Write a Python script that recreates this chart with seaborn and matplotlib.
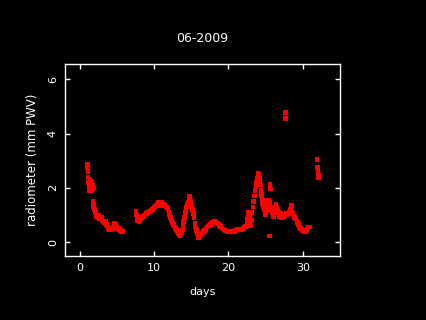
import matplotlib
matplotlib.use("Agg")
import matplotlib.pyplot as plt
import seaborn as sns
import pandas as pd

# Precipitable water vapour readings as (day of month, mm PWV)
seg1 = [(1.0, 2.75), (1.05, 2.85), (1.1, 2.6), (1.15, 2.4), (1.2, 2.2), (1.25, 1.95),
        (1.3, 2.1), (1.35, 1.9), (1.4, 2.3), (1.45, 2.05), (1.5, 2.0), (1.55, 2.25),
        (1.6, 2.2), (1.65, 1.9), (1.7, 1.95), (1.75, 2.1), (1.8, 2.1), (1.85, 2.0)]

seg2 = [(1.8, 1.5), (1.85, 1.4), (1.9, 1.3), (1.95, 1.25), (2.0, 1.2), (2.1, 1.1),
        (2.2, 1.05), (2.3, 0.95), (2.4, 1.0), (2.5, 0.9), (2.6, 0.95), (2.7, 0.88),
        (2.8, 0.85), (2.9, 0.85), (3.0, 0.8), (3.1, 0.78), (3.2, 0.75), (3.3, 0.72),
        (3.4, 0.7), (3.5, 0.66), (3.6, 0.65), (3.7, 0.6), (3.8, 0.55), (3.9, 0.5),
        (4.0, 0.45), (4.1, 0.45), (4.2, 0.45), (4.3, 0.48), (4.4, 0.5), (4.5, 0.55),
        (4.6, 0.6), (4.7, 0.7), (4.8, 0.65), (4.9, 0.6), (5.0, 0.55), (5.1, 0.52),
        (5.2, 0.5), (5.3, 0.48), (5.4, 0.45), (5.5, 0.42), (5.6, 0.4), (5.7, 0.38),
        (5.8, 0.38)]

seg3a = [(7.6, 1.12), (7.65, 1.0), (7.7, 0.95), (7.75, 0.8), (7.8, 0.85), (7.9, 0.78),
         (8.0, 0.75), (8.1, 0.8), (8.2, 0.85), (8.3, 0.9), (8.4, 0.9), (8.5, 0.95),
         (8.6, 0.95), (8.7, 1.0), (8.8, 1.0), (8.9, 1.05), (9.0, 1.05), (9.1, 1.1),
         (9.2, 1.1), (9.35, 1.12), (9.5, 1.15), (9.65, 1.18), (9.8, 1.2), (9.9, 1.25),
         (10.0, 1.3), (10.15, 1.32), (10.3, 1.35), (10.45, 1.38), (10.6, 1.4),
         (10.75, 1.42), (10.9, 1.42), (11.05, 1.45), (11.2, 1.38), (11.35, 1.4),
         (11.5, 1.35), (11.65, 1.3), (11.8, 1.25), (11.9, 1.18), (12.0, 1.1),
         (12.1, 1.0), (12.2, 0.9), (12.3, 0.82), (12.4, 0.75), (12.5, 0.7),
         (12.6, 0.65), (12.7, 0.6), (12.8, 0.55), (12.9, 0.5), (13.0, 0.45)]

seg3b = [(13.1, 0.4), (13.2, 0.35), (13.3, 0.32), (13.4, 0.28), (13.5, 0.25),
         (13.6, 0.3), (13.7, 0.35), (13.8, 0.45), (13.9, 0.6), (14.0, 0.75),
         (14.1, 0.9), (14.2, 1.1), (14.3, 1.2), (14.4, 1.3), (14.5, 1.4), (14.6, 1.45),
         (14.7, 1.55), (14.8, 1.6), (14.9, 1.5), (15.0, 1.4), (15.1, 1.3), (15.2, 1.2),
         (15.3, 1.05), (15.4, 0.9), (15.5, 0.7), (15.6, 0.55), (15.7, 0.42),
         (15.8, 0.3), (15.9, 0.22), (16.0, 0.18)]

seg3c = [(16.1, 0.2), (16.2, 0.25), (16.3, 0.28), (16.4, 0.3), (16.5, 0.33),
         (16.6, 0.38), (16.7, 0.4), (16.8, 0.42), (16.9, 0.45), (17.0, 0.5),
         (17.15, 0.55), (17.3, 0.6), (17.45, 0.62), (17.6, 0.65), (17.75, 0.68),
         (17.9, 0.72), (18.05, 0.75), (18.2, 0.75), (18.35, 0.72), (18.5, 0.7),
         (18.65, 0.66), (18.8, 0.62), (18.95, 0.58), (19.1, 0.52), (19.25, 0.48),
         (19.4, 0.45), (19.55, 0.43), (19.7, 0.42), (19.8, 0.4), (19.9, 0.4),
         (20.5, 0.38), (20.65, 0.38), (20.8, 0.4), (20.95, 0.42), (21.1, 0.45),
         (21.25, 0.46), (21.4, 0.48), (21.55, 0.46), (21.7, 0.45), (21.85, 0.48),
         (22.0, 0.5)]

seg3d = [(22.1, 0.52), (22.2, 0.55), (22.3, 0.58), (22.4, 0.6), (22.5, 0.7),
         (22.6, 0.85), (22.65, 0.95), (22.7, 1.1), (22.75, 1.0), (22.8, 0.95),
         (22.9, 0.75), (23.0, 0.6), (23.1, 0.8), (23.2, 1.1), (23.3, 1.3), (23.4, 1.5),
         (23.5, 1.7), (23.6, 1.9), (23.7, 2.05), (23.8, 2.2), (23.9, 2.35),
         (24.0, 2.45), (24.05, 2.4), (24.1, 2.5), (24.15, 2.35), (24.2, 2.3),
         (24.3, 2.1), (24.4, 1.9), (24.45, 1.75), (24.5, 1.6), (24.55, 1.5),
         (24.6, 1.4), (24.7, 1.3), (24.8, 1.2), (24.9, 1.1), (25.0, 1.0),
         (25.1, 1.15), (25.2, 1.3), (25.3, 1.45), (25.4, 1.55), (25.5, 1.45),
         (25.6, 1.4), (25.7, 1.3), (25.8, 1.2), (25.9, 1.1), (26.0, 1.0)]

seg3e = [(26.1, 1.1), (26.2, 1.2), (26.3, 1.3), (26.4, 1.4), (26.5, 1.3), (26.6, 1.2),
         (26.7, 1.1), (26.8, 1.0), (26.9, 0.95), (27.0, 0.95), (27.15, 0.9),
         (27.3, 0.92), (27.45, 0.95), (27.6, 0.98), (27.75, 1.0), (27.9, 1.02),
         (28.05, 1.05), (28.2, 1.1), (28.3, 1.2), (28.4, 1.15), (28.5, 1.1),
         (28.6, 1.05), (28.7, 1.0), (28.8, 0.95), (28.9, 0.9), (29.0, 0.88),
         (29.1, 0.85), (29.2, 0.78), (29.3, 0.7), (29.4, 0.65), (29.5, 0.6),
         (29.6, 0.55), (29.7, 0.5), (29.8, 0.48), (29.9, 0.45), (30.0, 0.43),
         (30.1, 0.42), (30.2, 0.4), (30.3, 0.38), (30.4, 0.4), (30.5, 0.45),
         (30.6, 0.48), (30.7, 0.5), (30.8, 0.55), (30.9, 0.55)]

# scattered readings around the main trace and isolated outliers
extras = [(1.1, 2.4), (1.3, 2.3), (1.5, 2.2), (2.5, 1.0), (3.0, 0.9), (3.5, 0.75),
          (4.1, 0.52), (10.6, 1.48), (11.0, 1.35), (13.3, 0.4), (14.75, 1.7),
          (14.5, 1.3), (15.0, 1.5), (22.75, 1.05), (22.9, 0.9), (23.6, 1.7),
          (23.9, 2.3), (24.0, 2.55), (24.2, 2.2), (24.4, 1.7), (24.6, 1.55),
          (24.9, 1.1), (25.2, 1.2), (25.3, 1.5), (25.5, 1.25), (25.55, 0.22),
          (25.6, 2.12), (25.65, 1.95), (26.1, 0.95), (26.3, 1.25), (26.5, 1.3),
          (27.1, 1.05), (27.8, 1.05), (28.4, 1.3), (28.45, 1.35), (27.65, 4.56),
          (27.7, 4.77), (31.9, 3.04), (32.0, 2.75), (32.05, 2.6), (32.1, 2.45),
          (32.15, 2.38)]

title = "06-2009"
xlabel = "days"
ylabel = "radiometer (mm PWV)"
xticks = [0, 10, 20, 30]
yticks = [0, 2, 4, 6]

rows = seg1 + seg2 + seg3a + seg3b + seg3c + seg3d + seg3e + extras
df = pd.DataFrame(rows, columns=["day", "pwv"])

sns.set_style("dark")
plt.rcParams["font.family"] = ["DejaVu Sans"]

fig = plt.figure(figsize=(4.26, 3.2), dpi=100, facecolor="black")
ax = fig.add_axes([0.152, 0.201, 0.646, 0.598])
ax.set_facecolor("black")

sns.scatterplot(data=df, x="day", y="pwv", ax=ax, color="red", marker="s",
                s=11, linewidth=0, edgecolor="none", legend=False)

ax.set_xlim(-2, 35)
ax.set_ylim(-0.5, 6.55)
ax.set_xticks(xticks)
ax.set_yticks(yticks)
ax.grid(False)
for sp in ax.spines.values():
    sp.set_visible(True)
    sp.set_color("white")
    sp.set_linewidth(1.0)
ax.tick_params(axis="both", which="both", direction="in", length=3.6, width=1.0,
               color="white", labelcolor="white", labelsize=8,
               top=True, right=True, bottom=True, left=True, pad=5)
for lab in ax.get_yticklabels():
    lab.set_rotation(90)
    lab.set_va("center")

ax.set_title(title, color="white", fontsize=9, pad=16)
ax.set_xlabel(xlabel, color="white", fontsize=8, labelpad=10)
ax.set_ylabel(ylabel, color="white", fontsize=8.5, labelpad=6)

fig.savefig("out.png", dpi=100, facecolor="black")
